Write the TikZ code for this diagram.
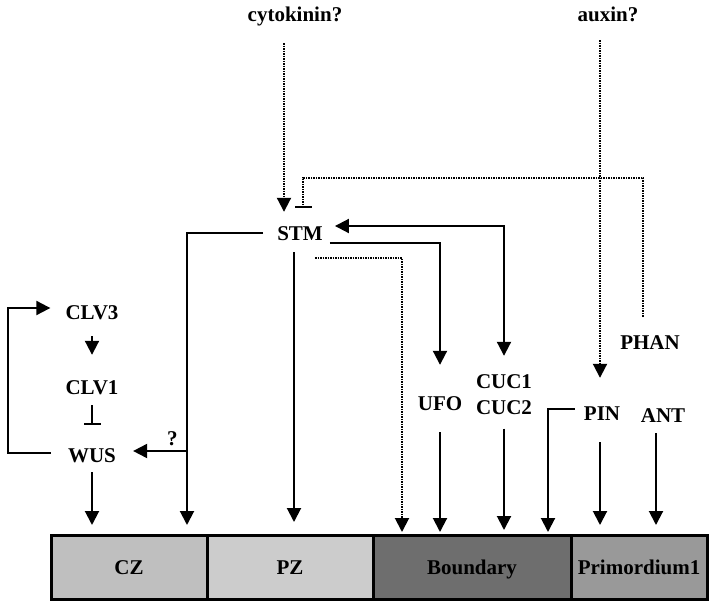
\documentclass[tikz,border=0pt]{standalone}
\usepackage{fontspec}
\setmainfont{Liberation Serif}
\usetikzlibrary{arrows.meta,positioning}

\begin{document}
\begin{tikzpicture}[
    x=1pt, y=-1pt,
    gene/.style={font=\fontsize{21}{24}\selectfont\bfseries, inner sep=2pt, text height=14pt, text depth=0pt},
    zone/.style={gene, draw, line width=3pt, outer sep=0pt, minimum height=64pt},
    tip/.tip={Triangle[width=14pt,length=14pt]},
    act/.style={-tip, line width=2pt},
    inh/.style={-{Bar[width=17pt]}, line width=2pt},
    dots/.style={dash pattern=on 1.5pt off 1pt}
]
\useasboundingbox (0,0) rectangle (709,602);

% signals on top
\node[gene] (cyto) at (295,15) {cytokinin?};
\node[gene] (aux) at (608,15) {auxin?};

% genes
\node[gene] (stm) at (300,233) {STM};
\node[gene] (clv3) at (92,312) {CLV3};
\node[gene] (clv1) at (92,387) {CLV1};
\node[gene] (wus) at (92,455) {WUS};
\node[gene] (ufo) at (440,403) {UFO};
\node[gene] (cuc1) at (504,381) {CUC1};
\node[gene, below=8pt of cuc1] (cuc2) {CUC2};
\node[gene] (phan) at (650,342) {PHAN};
\node[gene] (pin) at (602,413) {PIN};
\node[gene] (ant) at (663,415) {ANT};

% meristem zones
\node[zone, fill=black!25, minimum width=156pt] (cz) at (129,567) {CZ};
\node[zone, fill=black!20, minimum width=166pt, right=0pt of cz] (pz) {PZ};
\node[zone, fill=black!57, minimum width=198pt, right=0pt of pz] (bnd) {Boundary};
\node[zone, fill=black!40, minimum width=136pt, right=0pt of bnd] (prim) {Primordium1};

% hormone inputs
\draw[act, dots] ([xshift=-11pt,yshift=-19pt]cyto.south) -- ([xshift=-16pt,yshift=12pt]stm.north);
\draw[act, dots] ([xshift=-8pt,yshift=-16pt]aux.south) -- ([xshift=-2pt,yshift=26pt]pin.north);
\draw[inh, dots] ([xshift=-7pt,yshift=16pt]phan.north) |- ([xshift=3pt,yshift=46pt]stm.north)
    -- ([xshift=3pt,yshift=16pt]stm.north);

% STM outputs
\draw[act] ([xshift=5pt,yshift=-10pt]stm.east) -| ([yshift=29pt]ufo.north);
\draw[act, tip-tip] ([xshift=10pt,yshift=7pt]stm.east) -| ([yshift=16pt]cuc1.north);
\draw[act] ([xshift=-12pt]stm.west) -| ([xshift=58pt,yshift=10pt]cz.north);
\coordinate (fork) at (187,451);
\draw[act] (fork) -- node[gene, above, pos=0.27, yshift=3pt] (qm) {?} ([xshift=15pt,yshift=4pt]wus.east);
\draw[act] ([xshift=-6pt,yshift=-10pt]stm.south) -- ([xshift=4pt,yshift=13pt]pz.north);
\draw[act, dots] ([xshift=15pt,yshift=-16pt]stm.south) -| ([xshift=-70pt,yshift=3pt]bnd.north);

% CLV / WUS loop
\draw[act] ([yshift=-15pt]clv3.south) -- ([yshift=23pt]clv1.north);
\draw[inh] ([yshift=-9pt]clv1.south) -- ([yshift=21pt]wus.north);
\draw[act] ([xshift=-15pt,yshift=2pt]wus.west) -- ++(-43pt,0) |- ([xshift=-13pt,yshift=4pt]clv3.west);
\draw[act] ([yshift=-8pt]wus.south) -- ([xshift=-37pt,yshift=10pt]cz.north);

% boundary and primordium genes
\draw[act] ([yshift=-20pt]ufo.south) -- ([xshift=-32pt,yshift=3pt]bnd.north);
\draw[act] ([yshift=-12pt]cuc2.south) -- ([xshift=32pt,yshift=5pt]bnd.north);
\draw[act] ([xshift=-7pt,yshift=4pt]pin.west) -| ([xshift=76pt,yshift=3pt]bnd.north);
\draw[act] ([xshift=-2pt,yshift=-20pt]pin.south) -- ([xshift=-39pt,yshift=10pt]prim.north);
\draw[act] ([xshift=-7pt,yshift=-9pt]ant.south) -- ([xshift=17pt,yshift=10pt]prim.north);
\end{tikzpicture}
\end{document}
